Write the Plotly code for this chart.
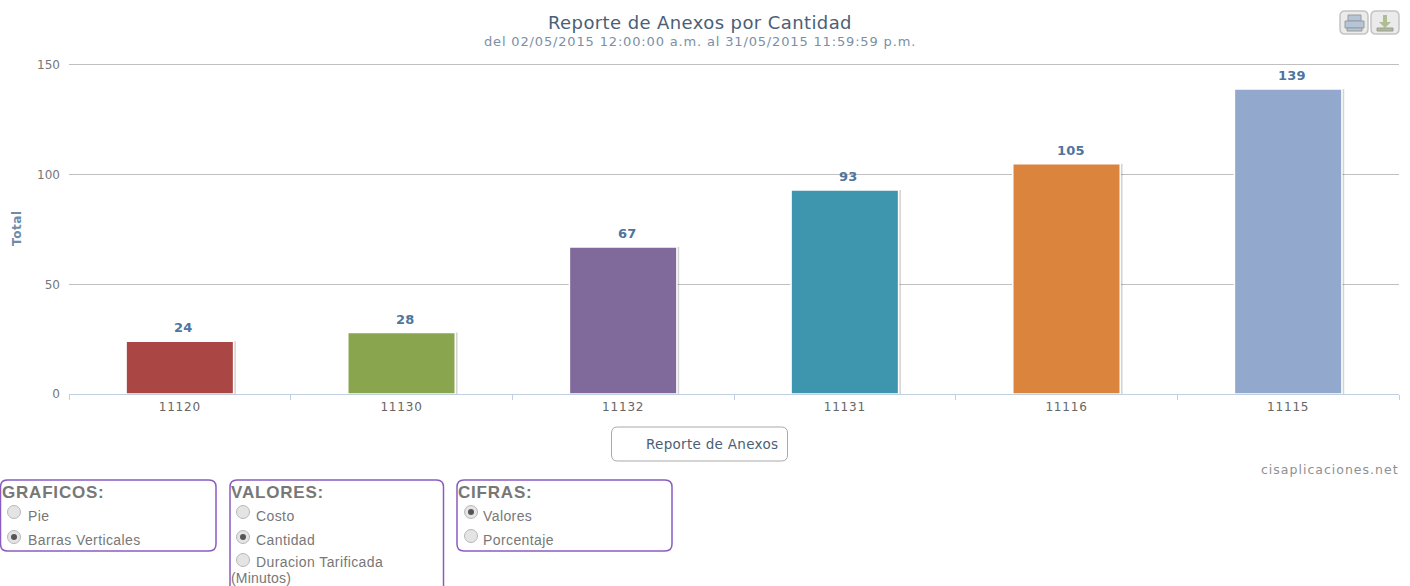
import plotly.graph_objects as go

categories = ["11120", "11130", "11132", "11131", "11116", "11115"]
values = [24, 28, 67, 93, 105, 139]
colors = ["#AA4643", "#89A54E", "#80699B", "#3D96AE", "#DB843D", "#92A8CD"]
y_ticks = [0, 50, 100, 150]
title = "Reporte de Anexos por Cantidad"
subtitle = "del 02/05/2015 12:00:00 a.m. al 31/05/2015 11:59:59 p.m."
y_title = "Total"
legend_label = "Reporte de Anexos"
credit = "cisaplicaciones.net"

W, H = 1410, 586
L, R, T, B = 69, 1399, 63, 394
SANS = "DejaVu Sans"
ARIAL = "Liberation Sans"


def px(x):
    return (x - L) / (R - L)


def py(y):
    return (B - y) / (B - T)


def spaced(s, sp):
    return f'<span style="letter-spacing:{sp}px">{s}</span>' if sp else s


def rrect(x0, y0, x1, y1, r):
    a0, a1, b0, b1 = px(x0), px(x1), py(y0), py(y1)
    rx, ry = r / (R - L), r / (B - T)
    return (f"M{a0+rx},{b0} L{a1-rx},{b0} Q{a1},{b0} {a1},{b0-ry} L{a1},{b1+ry} Q{a1},{b1} {a1-rx},{b1} "
            f"L{a0+rx},{b1} Q{a0},{b1} {a0},{b1+ry} L{a0},{b0-ry} Q{a0},{b0} {a0+rx},{b0} Z")


fig = go.Figure()
fig.add_bar(x=categories, y=values, width=0.485, offset=-0.232,
            marker=dict(color="rgba(0,0,0,0.17)", line_width=0), hoverinfo="skip")
fig.add_bar(x=categories, y=values, width=0.485, offset=-0.2425,
            marker=dict(color=colors, line=dict(color="white", width=1.5)))

shapes, notes = [], []

# value labels above the bars (on a category axis, annotation x is the category index)
for i, v in enumerate(values):
    notes.append(dict(x=i, y=v, xref="x", yref="y", text=spaced(str(v), 0.2), showarrow=False,
                      yanchor="bottom", yshift=4, xshift=4,
                      font=dict(family=SANS, size=13, color="#4D759E", weight="bold")))


def text(x, y, s, size, color, family=SANS, anchor="left", weight=None, sp=0):
    notes.append(dict(xref="paper", yref="paper", x=px(x), y=py(y), text=spaced(s, sp), showarrow=False,
                      xanchor=anchor, yanchor="middle", align=anchor,
                      xshift=-2 if anchor == "left" else 0,
                      font=dict(family=family, size=size, color=color, weight=weight)))


def rect(x0, y0, x1, y1, r, line, width=1.5, fill="white"):
    shapes.append(dict(type="path", xref="paper", yref="paper", path=rrect(x0, y0, x1, y1, r),
                       line=dict(color=line, width=width), fillcolor=fill, layer="above"))


def box(x0, y0, x1, y1, fill, line=None):
    shapes.append(dict(type="rect", xref="paper", yref="paper", x0=px(x0), x1=px(x1), y0=py(y0), y1=py(y1),
                       fillcolor=fill, line=dict(width=0 if line is None else 1, color=line or fill), layer="above"))


def radio(cx, cy, on):
    shapes.append(dict(type="circle", xref="paper", yref="paper", x0=px(cx-6.5), x1=px(cx+6.5), y0=py(cy+6.5), y1=py(cy-6.5),
                       fillcolor="#E4E4E4", line=dict(color="#B8B8B8", width=1), layer="above"))
    if on:
        shapes.append(dict(type="circle", xref="paper", yref="paper", x0=px(cx-3), x1=px(cx+3), y0=py(cy+3), y1=py(cy-3),
                           fillcolor="#555555", line_width=0, layer="above"))


# titles
text(700, 22, title, 18, "#4A6076", anchor="center", sp=0.4)
text(700, 42, subtitle, 13, "#7A90A6", anchor="center", sp=0.84)
notes.append(dict(xref="paper", yref="paper", x=px(17), y=py(228), text=spaced(y_title, 0.6), textangle=-90, showarrow=False,
                  xanchor="center", yanchor="middle",
                  font=dict(family=SANS, size=12, color="#6D8BAA", weight="bold")))

# legend and credit
rect(611.5, 427, 787.5, 461, 6, "#A9A9A9", 1)
text(712, 444, legend_label, 13.5, "#4A6076", anchor="center", sp=0.3)
text(1401, 469, credit, 12.5, "#909090", anchor="right", sp=1.0)

# export buttons
rect(1340, 11, 1368, 34, 5, "#C4C4C4", 1.5, "#EBEBEB")
rect(1371, 11, 1399, 34, 5, "#C4C4C4", 1.5, "#EBEBEB")
box(1348, 15, 1361, 21, "#B4C5D8", "#9A9A9A")
box(1345, 21, 1364, 28, "#B4C5D8", "#9A9A9A")
box(1347, 28, 1362, 31, "#B4C5D8", "#9A9A9A")
box(1383, 15, 1387, 22, "#AEBE92")
shapes.append(dict(type="path", xref="paper", yref="paper", layer="above", fillcolor="#AEBE92", line_width=0,
                   path=f"M{px(1379)},{py(22)} L{px(1391)},{py(22)} L{px(1385)},{py(28)} Z"))
box(1377, 28, 1393, 31, "#AEBE92", "#9A9A9A")

# form panels
PURPLE = "#8A5CC2"
rect(0.5, 480, 216, 551, 7, PURPLE)
rect(230, 480, 443.5, 600, 7, PURPLE)
rect(457, 480, 672, 551, 7, PURPLE)
GR = "#777777"
text(2, 492, "GRAFICOS:", 17, GR, ARIAL, weight="bold", sp=0.8)
text(231, 492, "VALORES:", 17, GR, ARIAL, weight="bold", sp=0.8)
text(458, 492, "CIFRAS:", 17, GR, ARIAL, weight="bold", sp=0.8)
radio_labels = ["Pie", "Barras Verticales", "Costo", "Cantidad", "Duracion Tarificada", "Valores", "Porcentaje"]
radio_state = [False, True, False, True, False, True, False]
radio_x = [14, 14, 243, 243, 243, 471, 471]
radio_y = [512, 537, 512, 537, 560, 512, 536]
text_x = [28, 28, 256, 256, 256, 483, 483]
text_y = [516, 540, 516, 540, 562, 516, 540]
for lab, on, rx, ry, tx, ty in zip(radio_labels, radio_state, radio_x, radio_y, text_x, text_y):
    radio(rx, ry, on)
    text(tx, ty, lab, 14, GR, ARIAL, sp=0.4)
text(231, 578, "(Minutos)", 14, GR, ARIAL, sp=0.2)

fig.update_layout(
    width=W, height=H, autosize=False, barmode="overlay", showlegend=False,
    paper_bgcolor="white", plot_bgcolor="white",
    margin=dict(l=L, r=W - R, t=T, b=H - B, pad=0),
    shapes=shapes, annotations=notes,
    xaxis=dict(type="category", categoryorder="array", categoryarray=categories, range=[-0.5, 5.5],
               showgrid=False, showline=True, linecolor="#C0D0E0", linewidth=1,
               ticks="outside", ticklen=5, tickcolor="#C0D0E0", tickson="boundaries",
               tickfont=dict(family=SANS, size=12, color="#666666"), ticklabelstandoff=2,
               zeroline=False),
    yaxis=dict(range=[0, 150.9], tickvals=y_ticks, showgrid=True, gridcolor="#C0C0C0", gridwidth=1,
               zeroline=False, showline=False, ticks="", ticklabelstandoff=8,
               tickfont=dict(family=SANS, size=12, color="#777777")),
)

post = ("document.body.style.margin='0';document.body.style.overflow='hidden';"
        "var s=document.createElement('style');"
        "s.textContent='.xtick text{letter-spacing:.8px}';document.head.appendChild(s);")
fig.write_html("out.html", config=dict(displayModeBar=False), post_script=post)
